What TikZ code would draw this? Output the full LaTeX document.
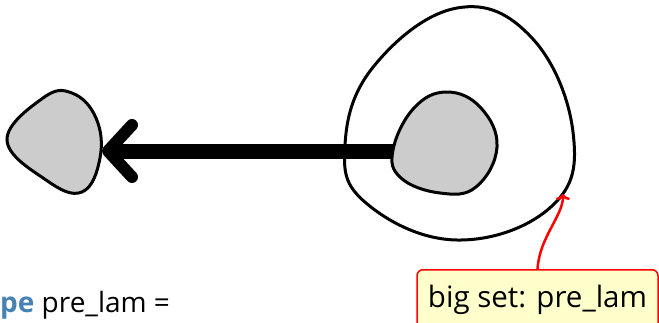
\documentclass[tikz,border=0pt]{standalone}
\usepackage{fontspec}
\setmainfont{Open Sans}
\usepackage{xcolor}
\usetikzlibrary{arrows.meta}
\usetikzlibrary{math}
\definecolor{mygray}{RGB}{204,204,204}
\definecolor{myyellow}{RGB}{255,255,204}
\definecolor{myred}{RGB}{255,0,0}
\definecolor{mykw}{RGB}{70,130,180}

\begin{document}
\begin{tikzpicture}[x=1pt,y=-1pt,
  blob/.style={line width=3pt, smooth cycle, tension=0.7},
  note/.style={draw=myred, fill=myyellow, line width=1.5pt, rounded corners=6pt,
    minimum width=241pt, minimum height=60pt, inner sep=0pt, font=\fontsize{29.5}{34}\selectfont},
  code/.style={inner sep=0pt, font=\fontsize{28}{32}\selectfont}]
\tikzmath{
\lw=15;
}
\useasboundingbox (0,0) rectangle (659,322);

%small set on the left
\draw[blob, fill=mygray] plot coordinates {(7,140) (43,98) (72,93) (96,118) (100,158) (82,192) (46,180)};
\coordinate (small) at (102,151);

%big set with the inner set
\draw[blob, fill=white] plot coordinates {(345,145) (374,66) (457,8) (532,38) (573,132) (552,206) (457,240) (366,203)};
\draw[blob, fill=mygray] plot coordinates {(393,150) (414,108) (447,92) (481,108) (497,147) (476,187) (440,193) (401,178)};
\coordinate (inner) at (393,151);
\coordinate (rim) at (563,194);

%the map
\draw[line width=\lw pt, -{Straight Barb[length=24pt, width=52pt, line width=12pt, round]}] (inner) -- (small);

%label
\node[note, anchor=north] (label) at (537.5,269) {big set: pre\_lam};
\draw[myred, line width=2.5pt, -{To[length=6pt, width=14pt]}] (label.north) .. controls +(2,-32) and +(0,22) .. (rim);

\node[code, anchor=base west] (code) at (0,312) {\textbf{\color{mykw}pe} pre\_lam =};
\end{tikzpicture}
\end{document}
